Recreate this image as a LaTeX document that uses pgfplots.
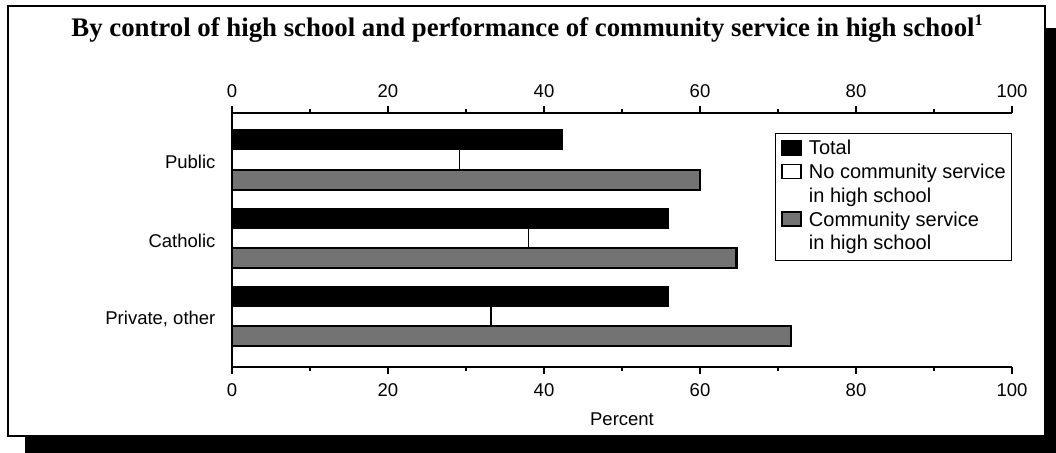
\documentclass[border=0pt]{standalone}
\usepackage{fontspec}
\setmainfont{Liberation Sans}
\newfontfamily\titlefont{Liberation Serif}
\usepackage{pgfplots}
\pgfplotsset{compat=1.18}

\begin{document}
\fontsize{9.25}{11.5}\selectfont
\begin{tikzpicture}
\useasboundingbox (0,0) rectangle (528pt,-226.5pt);
% frame with drop shadow
\fill[black] (12.5pt,-218pt) rectangle (528pt,-226.5pt);
\fill[black] (522.5pt,-14pt) rectangle (528pt,-226.5pt);
\draw[line width=1.2pt, fill=white] (4pt,-3pt) rectangle (522.5pt,-218pt);
\node[anchor=base] at (263.5pt,-18.5pt)
  {\titlefont\bfseries\fontsize{13.4}{15}\selectfont By control of high school and performance of community service in high school\raisebox{0.42em}{\fontsize{8}{8}\selectfont 1}};

% top axis: ticks and labels only
\begin{axis}[
  at={(116pt,-56.5pt)}, anchor=north west,
  scale only axis, width=390pt, height=127pt,
  xmin=0, xmax=100, ymin=-0.65, ymax=2.6,
  axis x line*=top, axis y line=none,
  axis line style={-, line width=1.3pt},
  xtick={0,20,...,100}, minor x tick num=1, ytick=\empty,
  tick align=outside,
  major tick length=3.5pt, minor tick length=1.8pt,
  every tick/.style={black, line width=0.6pt},
  xticklabel style={yshift=0.8pt},
  /pgf/number format/assume math mode=true,
]
\addplot[draw=none] coordinates {(0,0)};
\end{axis}

% main axis with the bars
\begin{axis}[
  at={(116pt,-56.5pt)}, anchor=north west,
  scale only axis, width=390pt, height=127pt,
  xmin=0, xmax=100, ymin=-0.65, ymax=2.6,
  axis x line*=bottom, axis y line*=left,
  axis line style={-, line width=1.3pt},
  xtick={0,20,...,100}, minor x tick num=1,
  ytick={0,1,2},
  yticklabels={{Private, other},Catholic,Public},
  y tick style={draw=none},
  yticklabel style={xshift=-1.5pt, yshift=-1.2pt},
  xticklabel style={yshift=-1.5pt},
  tick align=outside,
  major tick length=3.5pt, minor tick length=1.8pt,
  x tick style={black, line width=0.6pt},
  /pgf/number format/assume math mode=true,
  xlabel={Percent},
  xlabel style={yshift=-1.5pt},
  xbar, bar width=10pt,
  legend style={at={(0.696,0.921)}, anchor=north west,
    draw=black, line width=0.5pt, inner xsep=3pt, inner ysep=2.2pt, row sep=0pt,
    font=\fontsize{10}{11.85}\selectfont,
    nodes={text height=8.5pt, text depth=3.35pt, inner sep=0pt, anchor=west},
    /tikz/every odd column/.append style={column sep=3.5pt}},
  legend cell align=left,
  legend image code/.code={\draw[#1, line width=0.8pt] (0pt,-2.5pt) rectangle (9.5pt,4.5pt);},
]
\addplot[bar shift=10pt, fill=black, draw=black] coordinates {
(42.3,2)
(56,1)
(56,0)
};
\addlegendentry{Total}
\addplot[bar shift=0pt, fill=white, draw=black, line width=0.6pt] coordinates {
(29.2,2)
(38,1)
(33.2,0)
};
\addlegendentry{No community service}
\addlegendimage{empty legend}
\addlegendentry{in high school}
\addplot[bar shift=-10pt, fill=black!55, draw=black, line width=1.2pt] coordinates {
(60,2)
(64.7,1)
(71.7,0)
};
\addlegendentry{Community service}
\addlegendimage{empty legend}
\addlegendentry{in high school}
\end{axis}
\end{tikzpicture}
\end{document}
